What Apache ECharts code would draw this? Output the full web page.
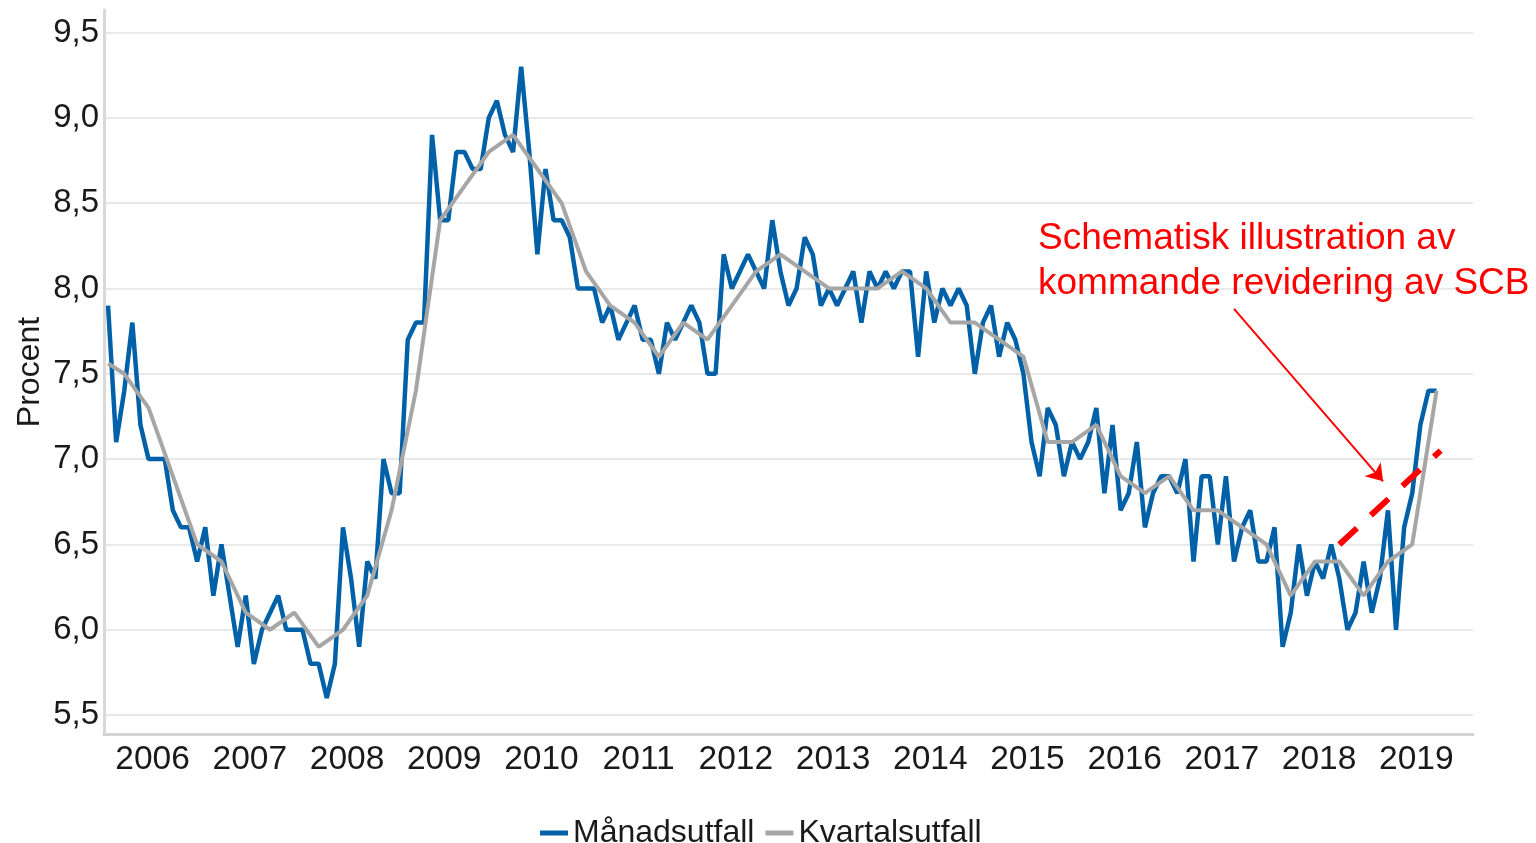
<!DOCTYPE html>
<html>
<head>
<meta charset="utf-8">
<title>Arbetslöshet 2006-2019</title>
<script src="https://cdn.jsdelivr.net/npm/echarts@6/dist/echarts.min.js"></script>
<style>
  html, body { margin: 0; padding: 0; background: #fff; }
  #main { width: 1536px; height: 843px; }
</style>
</head>
<body>
<div id="main"></div>
<script>
// Månadsutfall (procent), ett år per rad, jan 2006 - sep 2019
var startAr = 2006;
var m2006 = [7.9, 7.1, 7.4, 7.8, 7.2, 7.0, 7.0, 7.0, 6.7, 6.6, 6.6, 6.4];
var m2007 = [6.6, 6.2, 6.5, 6.2, 5.9, 6.2, 5.8, 6.0, 6.1, 6.2, 6.0, 6.0];
var m2008 = [6.0, 5.8, 5.8, 5.6, 5.8, 6.6, 6.3, 5.9, 6.4, 6.3, 7.0, 6.8];
var m2009 = [6.8, 7.7, 7.8, 7.8, 8.9, 8.4, 8.4, 8.8, 8.8, 8.7, 8.7, 9.0];
var m2010 = [9.1, 8.9, 8.8, 9.3, 8.8, 8.2, 8.7, 8.4, 8.4, 8.3, 8.0, 8.0];
var m2011 = [8.0, 7.8, 7.9, 7.7, 7.8, 7.9, 7.7, 7.7, 7.5, 7.8, 7.7, 7.8];
var m2012 = [7.9, 7.8, 7.5, 7.5, 8.2, 8.0, 8.1, 8.2, 8.1, 8.0, 8.4, 8.1];
var m2013 = [7.9, 8.0, 8.3, 8.2, 7.9, 8.0, 7.9, 8.0, 8.1, 7.8, 8.1, 8.0];
var m2014 = [8.1, 8.0, 8.1, 8.1, 7.6, 8.1, 7.8, 8.0, 7.9, 8.0, 7.9, 7.5];
var m2015 = [7.8, 7.9, 7.6, 7.8, 7.7, 7.5, 7.1, 6.9, 7.3, 7.2, 6.9, 7.1];
var m2016 = [7.0, 7.1, 7.3, 6.8, 7.2, 6.7, 6.8, 7.1, 6.6, 6.8, 6.9, 6.9];
var m2017 = [6.8, 7.0, 6.4, 6.9, 6.9, 6.5, 6.9, 6.4, 6.6, 6.7, 6.4, 6.4];
var m2018 = [6.6, 5.9, 6.1, 6.5, 6.2, 6.4, 6.3, 6.5, 6.3, 6.0, 6.1, 6.4];
var m2019 = [6.1, 6.3, 6.7, 6.0, 6.6, 6.8, 7.2, 7.4, 7.4];

// Kvartalsutfall, 2006K1 - 2019K3 (ritas vid kvartalets sista månad)
var kvartalStart = 7.56;
var kvartal = [
  7.5, 7.3, 6.9, 6.5,   // 2006
  6.4, 6.1, 6.0, 6.1,   // 2007
  5.9, 6.0, 6.2, 6.7,   // 2008
  7.4, 8.4, 8.6, 8.8,   // 2009
  8.9, 8.7, 8.5, 8.1,   // 2010
  7.9, 7.8, 7.6, 7.8,   // 2011
  7.7, 7.9, 8.1, 8.2,   // 2012
  8.1, 8.0, 8.0, 8.0,   // 2013
  8.1, 8.0, 7.8, 7.8,   // 2014
  7.7, 7.6, 7.1, 7.1,   // 2015
  7.2, 6.9, 6.8, 6.9,   // 2016
  6.7, 6.7, 6.6, 6.5,   // 2017
  6.2, 6.4, 6.4, 6.2,   // 2018
  6.4, 6.5, 7.4         // 2019
];

// schematisk revidering (månadsindex, procent)
var revideringX = [152.5, 165];
var revideringY = [6.5, 7.05];
var pilStart = [139.5, 7.88];
var pilSlut = [157.9, 6.87];

var yTicks = [5.5, 6.0, 6.5, 7.0, 7.5, 8.0, 8.5, 9.0, 9.5];

var FONT = '"Liberation Sans", Arial, Helvetica, sans-serif';
var TXT = '#1a1a1a';

var manad = [].concat(m2006, m2007, m2008, m2009, m2010, m2011, m2012,
                      m2013, m2014, m2015, m2016, m2017, m2018, m2019);
var manadData = manad.map(function (v, i) { return [i + 0.5, v]; });
var kvartalData = [[0.5, kvartalStart]].concat(kvartal.map(function (v, q) {
    return [q * 3 + 2.5, v];
}));
var revData = revideringX.map(function (x, i) { return [x, revideringY[i]]; });

var chart = echarts.init(document.getElementById('main'));

var option = {
    animation: false,
    textStyle: { fontFamily: FONT },
    grid: { left: 104, right: 63, top: 10, bottom: 109 },
    legend: {
        data: ['Månadsutfall', 'Kvartalsutfall'],
        left: 535,
        top: 812,
        icon: 'rect',
        itemWidth: 28,
        itemHeight: 5,
        itemGap: 11,
        textStyle: { fontSize: 32, color: TXT, fontFamily: FONT }
    },
    xAxis: {
        type: 'value',
        min: 0,
        max: 169,
        interval: 6,
        axisLine: { show: true, onZero: false, lineStyle: { color: '#d4d4d4', width: 3 } },
        axisTick: { show: false },
        splitLine: { show: false },
        axisLabel: {
            fontSize: 33.5,
            color: TXT,
            margin: 9,
            showMaxLabel: false,
            formatter: function (v) {
                return v % 12 === 6 ? String(startAr + (v - 6) / 12) : '';
            }
        }
    },
    yAxis: {
        type: 'value',
        min: 5.389,
        max: 9.632,
        splitNumber: 8,
        name: 'Procent',
        nameLocation: 'middle',
        nameRotate: 90,
        nameGap: 58,
        nameMoveOverlap: false,
        nameTextStyle: { fontSize: 32, color: TXT },
        axisLine: { show: true, lineStyle: { color: '#d9d9d9', width: 3 } },
        axisTick: { show: false },
        splitLine: {
            show: true,
            showMinLine: false,
            showMaxLine: false,
            lineStyle: { color: '#e9e9e9', width: 2 }
        },
        axisLabel: {
            fontSize: 33,
            color: TXT,
            margin: 5,
            showMinLabel: false,
            showMaxLabel: false,
            formatter: function (v) {
                for (var i = 0; i < yTicks.length; i++) {
                    if (Math.abs(v - yTicks[i]) < 1e-6) return yTicks[i].toFixed(1).replace('.', ',');
                }
                return '';
            }
        }
    },
    graphic: [{
        type: 'text',
        left: 1038,
        top: 216,
        z: 100,
        style: {
            text: 'Schematisk illustration av\nkommande revidering av SCB',
            font: '37px ' + FONT,
            fill: '#ff0000',
            lineHeight: 45
        }
    }],
    series: [
        {
            name: 'Månadsutfall',
            type: 'line',
            data: manadData,
            showSymbol: false,
            color: '#0061a8',
            lineStyle: { color: '#0061a8', width: 4.5 },
            z: 2
        },
        {
            name: 'Kvartalsutfall',
            type: 'line',
            data: kvartalData,
            showSymbol: false,
            color: '#a6a6a6',
            lineStyle: { color: '#a6a6a6', width: 4 },
            z: 3
        },
        {
            name: 'Revidering',
            type: 'line',
            data: revData,
            showSymbol: false,
            silent: true,
            lineStyle: { color: '#ff0000', width: 6, type: [24, 19] },
            z: 4,
            markLine: {
                silent: true,
                symbol: ['none', 'arrow'],
                symbolSize: 16,
                label: { show: false },
                emphasis: { disabled: true },
                lineStyle: { color: '#ff0000', width: 2, type: 'solid' },
                itemStyle: { color: '#ff0000' },
                data: [[{ coord: pilStart }, { coord: pilSlut }]]
            }
        }
    ]
};

chart.setOption(option);
</script>
</body>
</html>
